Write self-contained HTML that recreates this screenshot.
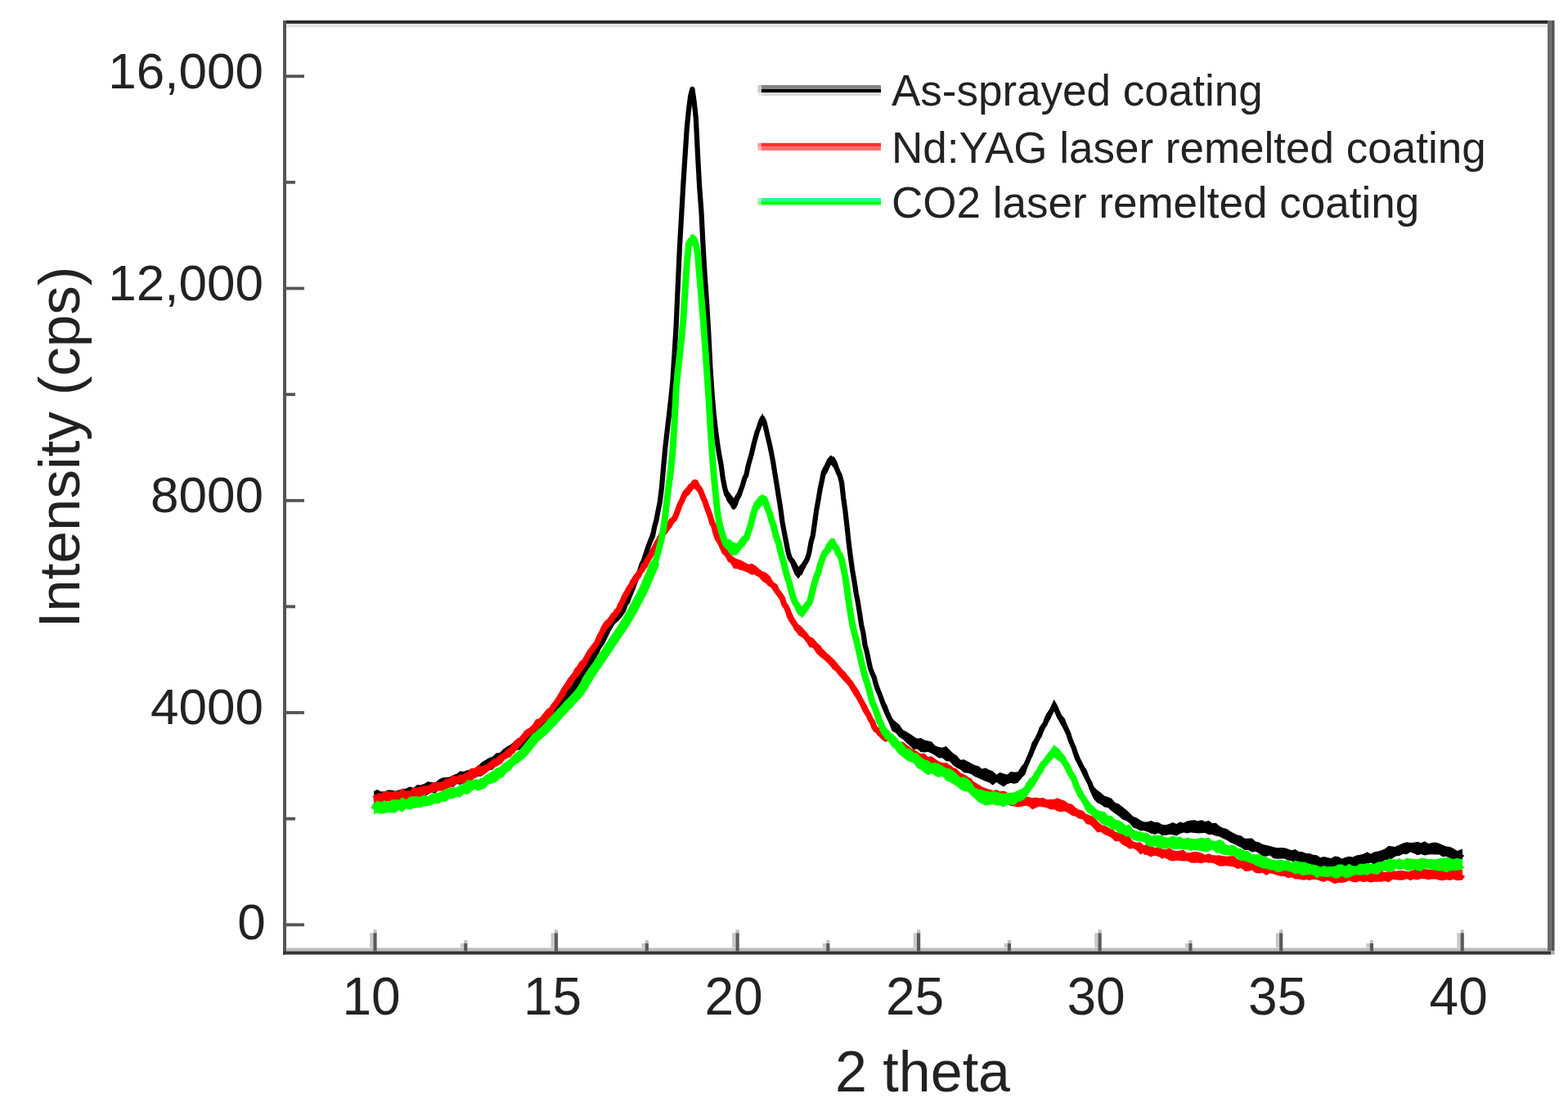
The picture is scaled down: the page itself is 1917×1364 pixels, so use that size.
<!DOCTYPE html>
<html><head><meta charset="utf-8"><style>
html,body{margin:0;padding:0;background:#fff;}
svg{display:block;}
text{font-family:"Liberation Sans",Arial,sans-serif;fill:#222;}
.tk{font-size:62px;}
.al{font-size:70px;}
.lg{font-size:53px;}
</style></head><body>
<svg width="1917" height="1364" viewBox="0 0 1917 1364">
<rect width="1917" height="1364" fill="#fff"/>
<text x="324.7" y="1147.8" text-anchor="end" class="tk">0</text>
<text x="322" y="885.3" text-anchor="end" class="tk">4000</text>
<text x="322" y="626.0" text-anchor="end" class="tk">8000</text>
<text x="322" y="366.8" text-anchor="end" class="tk">12,000</text>
<text x="322" y="107.5" text-anchor="end" class="tk">16,000</text>
<text x="454.0" y="1240" text-anchor="middle" class="tk" style="font-size:64px">10</text>
<text x="675.5" y="1240" text-anchor="middle" class="tk" style="font-size:64px">15</text>
<text x="897.1" y="1240" text-anchor="middle" class="tk" style="font-size:64px">20</text>
<text x="1118.6" y="1240" text-anchor="middle" class="tk" style="font-size:64px">25</text>
<text x="1340.1" y="1240" text-anchor="middle" class="tk" style="font-size:64px">30</text>
<text x="1561.7" y="1240" text-anchor="middle" class="tk" style="font-size:64px">35</text>
<text x="1783.2" y="1240" text-anchor="middle" class="tk" style="font-size:64px">40</text>
<text x="1128" y="1334" text-anchor="middle" class="al">2 theta</text>
<text transform="translate(97,546.5) rotate(-90)" text-anchor="middle" class="al" style="font-size:71px">Intensity (cps)</text>
<rect x="350.0" y="28.9" width="1542.0" height="4.5" fill="#e4e4e4"/>
<rect x="346.0" y="25.0" width="1550.0" height="3.9" fill="#282828"/>
<rect x="346.0" y="25.0" width="4.0" height="1141.7" fill="#555"/>
<rect x="1892.0" y="25.0" width="4.3" height="1137.4" fill="#6a6a6a"/>
<rect x="1896.3" y="25.0" width="4.2" height="1137.4" fill="#555"/>
<rect x="350.0" y="1158.5" width="1542.0" height="4.1" fill="#bebebe"/>
<rect x="346.0" y="1162.6" width="1550.3" height="4.1" fill="#353535"/>
<rect x="1896.3" y="1162.4" width="4.2" height="4.3" fill="#aaa"/>
<rect x="350.0" y="1128.4" width="22.0" height="3.8" fill="#555"/>
<rect x="350.0" y="998.8" width="11.0" height="3.8" fill="#555"/>
<rect x="350.0" y="869.1" width="22.0" height="3.8" fill="#555"/>
<rect x="350.0" y="739.5" width="11.0" height="3.8" fill="#555"/>
<rect x="350.0" y="609.9" width="22.0" height="3.8" fill="#555"/>
<rect x="350.0" y="480.2" width="11.0" height="3.8" fill="#555"/>
<rect x="350.0" y="350.6" width="22.0" height="3.8" fill="#555"/>
<rect x="350.0" y="220.9" width="11.0" height="3.8" fill="#555"/>
<rect x="350.0" y="91.3" width="22.0" height="3.8" fill="#555"/>
<rect x="452.1" y="1140.3" width="4.3" height="17.9" fill="#c8c8c8"/>
<rect x="456.4" y="1136.3" width="4.2" height="4.0" fill="#c0c0c0"/>
<rect x="456.4" y="1140.3" width="4.2" height="22.3" fill="#5a5a5a"/>
<rect x="562.9" y="1153.0" width="4.3" height="5.2" fill="#c8c8c8"/>
<rect x="567.2" y="1149.0" width="4.2" height="4.0" fill="#c0c0c0"/>
<rect x="567.2" y="1153.0" width="4.2" height="9.6" fill="#5a5a5a"/>
<rect x="673.6" y="1140.3" width="4.3" height="17.9" fill="#c8c8c8"/>
<rect x="677.9" y="1136.3" width="4.2" height="4.0" fill="#c0c0c0"/>
<rect x="677.9" y="1140.3" width="4.2" height="22.3" fill="#5a5a5a"/>
<rect x="784.4" y="1153.0" width="4.3" height="5.2" fill="#c8c8c8"/>
<rect x="788.7" y="1149.0" width="4.2" height="4.0" fill="#c0c0c0"/>
<rect x="788.7" y="1153.0" width="4.2" height="9.6" fill="#5a5a5a"/>
<rect x="895.2" y="1140.3" width="4.3" height="17.9" fill="#c8c8c8"/>
<rect x="899.5" y="1136.3" width="4.2" height="4.0" fill="#c0c0c0"/>
<rect x="899.5" y="1140.3" width="4.2" height="22.3" fill="#5a5a5a"/>
<rect x="1005.9" y="1153.0" width="4.3" height="5.2" fill="#c8c8c8"/>
<rect x="1010.2" y="1149.0" width="4.2" height="4.0" fill="#c0c0c0"/>
<rect x="1010.2" y="1153.0" width="4.2" height="9.6" fill="#5a5a5a"/>
<rect x="1116.7" y="1140.3" width="4.3" height="17.9" fill="#c8c8c8"/>
<rect x="1121.0" y="1136.3" width="4.2" height="4.0" fill="#c0c0c0"/>
<rect x="1121.0" y="1140.3" width="4.2" height="22.3" fill="#5a5a5a"/>
<rect x="1227.5" y="1153.0" width="4.3" height="5.2" fill="#c8c8c8"/>
<rect x="1231.8" y="1149.0" width="4.2" height="4.0" fill="#c0c0c0"/>
<rect x="1231.8" y="1153.0" width="4.2" height="9.6" fill="#5a5a5a"/>
<rect x="1338.2" y="1140.3" width="4.3" height="17.9" fill="#c8c8c8"/>
<rect x="1342.5" y="1136.3" width="4.2" height="4.0" fill="#c0c0c0"/>
<rect x="1342.5" y="1140.3" width="4.2" height="22.3" fill="#5a5a5a"/>
<rect x="1449.0" y="1153.0" width="4.3" height="5.2" fill="#c8c8c8"/>
<rect x="1453.3" y="1149.0" width="4.2" height="4.0" fill="#c0c0c0"/>
<rect x="1453.3" y="1153.0" width="4.2" height="9.6" fill="#5a5a5a"/>
<rect x="1559.8" y="1140.3" width="4.3" height="17.9" fill="#c8c8c8"/>
<rect x="1564.1" y="1136.3" width="4.2" height="4.0" fill="#c0c0c0"/>
<rect x="1564.1" y="1140.3" width="4.2" height="22.3" fill="#5a5a5a"/>
<rect x="1670.5" y="1153.0" width="4.3" height="5.2" fill="#c8c8c8"/>
<rect x="1674.8" y="1149.0" width="4.2" height="4.0" fill="#c0c0c0"/>
<rect x="1674.8" y="1153.0" width="4.2" height="9.6" fill="#5a5a5a"/>
<rect x="1781.3" y="1140.3" width="4.3" height="17.9" fill="#c8c8c8"/>
<rect x="1785.6" y="1136.3" width="4.2" height="4.0" fill="#c0c0c0"/>
<rect x="1785.6" y="1140.3" width="4.2" height="22.3" fill="#5a5a5a"/>
<path d="M457.0,967.0 461.4,965.1 465.8,967.6 470.2,967.3 474.6,965.5 479.0,965.8 483.4,966.8 487.8,965.5 492.2,964.4 496.6,963.8 501.0,961.4 505.4,963.0 509.8,959.2 514.2,959.6 518.6,958.1 523.0,955.3 527.4,955.9 531.8,956.7 536.2,953.0 540.6,950.5 545.0,950.3 549.4,949.8 553.8,947.5 558.2,945.7 562.6,942.4 567.0,943.0 571.4,941.2 575.8,940.4 580.2,938.8 584.6,936.0 589.0,931.4 593.4,928.9 597.8,926.2 602.2,924.8 606.6,920.4 611.0,919.9 615.4,915.5 619.8,912.5 624.2,909.9 628.6,906.5 633.0,902.1 637.4,903.8 641.8,900.1 646.2,896.1 650.6,889.3 655.0,884.1 659.4,880.8 663.8,877.6 668.2,875.4 672.6,870.2 677.0,865.7 681.4,861.1 685.8,854.1 690.2,848.7 694.6,842.6 699.0,837.4 703.4,829.2 707.8,823.0 712.2,814.8 716.6,807.2 721.0,800.0 725.4,794.8 729.8,789.0 734.2,780.8 738.6,773.9 743.0,763.4 747.4,754.3 751.8,748.8 756.2,744.0 760.6,738.8 765.0,732.1 769.4,723.8 773.8,710.2 778.2,701.8 782.6,688.4 787.0,677.1 791.4,663.0 795.8,650.7 800.2,638.8 804.6,618.0 809.0,588.6 813.4,539.9 817.8,501.2 822.2,461.1 826.6,392.3 831.0,291.6 835.4,214.8 839.8,151.9 844.2,113.0 848.6,116.1 853.0,180.4 857.4,250.2 861.8,330.8 866.2,396.6 870.6,474.2 875.0,519.6 879.4,548.7 883.8,577.2 888.2,597.5 892.6,603.1 897.0,609.1 901.4,601.7 905.8,592.5 910.2,578.6 914.6,566.0 919.0,545.9 923.4,530.1 927.8,514.8 932.2,504.8 936.6,517.5 941.0,536.2 945.4,561.3 949.8,586.5 954.2,617.4 958.6,642.7 963.0,664.3 967.4,679.6 971.8,684.6 976.2,692.7 980.6,688.2 985.0,680.6 989.4,668.3 993.8,645.5 998.2,616.2 1002.6,592.4 1007.0,570.5 1011.4,560.9 1015.8,556.2 1020.2,560.9 1024.6,569.5 1029.0,582.1 1033.4,618.9 1037.8,657.1 1042.2,690.6 1046.6,717.7 1051.0,742.3 1055.4,768.0 1059.8,791.6 1064.2,810.3 1068.6,824.0 1073.0,833.4 1077.4,845.7 1081.8,858.8 1086.2,866.9 1090.6,878.0 1095.0,882.0 1099.4,885.4 1103.8,892.1 1108.2,894.3 1112.6,897.0 1117.0,899.9 1121.4,902.7 1125.8,902.1 1130.2,904.5 1134.6,905.6 1139.0,906.6 1143.4,911.5 1147.8,913.0 1152.2,913.7 1156.6,912.0 1161.0,916.6 1165.4,920.7 1169.8,923.6 1174.2,928.7 1178.6,928.3 1183.0,930.4 1187.4,932.9 1191.8,935.2 1196.2,936.2 1200.6,939.7 1205.0,938.6 1209.4,941.1 1213.8,942.6 1218.2,946.7 1222.6,944.1 1227.0,945.6 1231.4,946.8 1235.8,943.0 1240.2,943.7 1244.6,943.2 1249.0,936.0 1253.4,931.9 1257.8,918.9 1262.2,909.8 1266.6,899.1 1271.0,889.8 1275.4,882.3 1279.8,872.1 1284.2,865.0 1288.6,854.7 1293.0,862.5 1297.4,873.3 1301.8,878.2 1306.2,890.3 1310.6,901.2 1315.0,913.2 1319.4,923.6 1323.8,934.7 1328.2,940.2 1332.6,952.3 1337.0,961.3 1341.4,965.4 1345.8,968.8 1350.2,972.7 1354.6,974.1 1359.0,975.9 1363.4,981.0 1367.8,982.6 1372.2,986.1 1376.6,989.6 1381.0,993.6 1385.4,998.1 1389.8,999.6 1394.2,1002.5 1398.6,1004.6 1403.0,1004.6 1407.4,1003.0 1411.8,1005.0 1416.2,1004.9 1420.6,1007.8 1425.0,1008.2 1429.4,1006.9 1433.8,1005.0 1438.2,1006.9 1442.6,1004.6 1447.0,1005.7 1451.4,1003.5 1455.8,1002.8 1460.2,1002.3 1464.6,1003.6 1469.0,1002.3 1473.4,1004.2 1477.8,1003.1 1482.2,1006.2 1486.6,1005.8 1491.0,1009.7 1495.4,1011.9 1499.8,1013.0 1504.2,1015.9 1508.6,1018.5 1513.0,1020.6 1517.4,1021.4 1521.8,1024.8 1526.2,1024.7 1530.6,1024.4 1535.0,1028.5 1539.4,1029.4 1543.8,1032.0 1548.2,1033.1 1552.6,1033.9 1557.0,1035.3 1561.4,1036.2 1565.8,1036.0 1570.2,1036.2 1574.6,1037.6 1579.0,1039.3 1583.4,1037.9 1587.8,1040.7 1592.2,1041.0 1596.6,1042.9 1601.0,1042.9 1605.4,1044.8 1609.8,1045.3 1614.2,1048.0 1618.6,1046.9 1623.0,1047.9 1627.4,1049.1 1631.8,1046.6 1636.2,1046.9 1640.6,1049.4 1645.0,1047.8 1649.4,1046.8 1653.8,1047.5 1658.2,1045.4 1662.6,1044.8 1667.0,1043.8 1671.4,1041.2 1675.8,1043.6 1680.2,1041.3 1684.6,1040.6 1689.0,1039.3 1693.4,1037.3 1697.8,1033.8 1702.2,1034.6 1706.6,1035.1 1711.0,1032.5 1715.4,1030.5 1719.8,1029.2 1724.2,1029.9 1728.6,1029.8 1733.0,1028.8 1737.4,1030.2 1741.8,1028.3 1746.2,1031.0 1750.6,1030.1 1755.0,1029.5 1759.4,1030.7 1763.8,1032.7 1768.2,1034.5 1772.6,1035.0 1777.0,1036.9 1781.4,1039.9 1788.0,1037.4 1788.0,1052.9 1781.4,1052.2 1777.0,1052.6 1772.6,1049.0 1768.2,1046.8 1763.8,1047.3 1759.4,1044.6 1755.0,1044.5 1750.6,1044.3 1746.2,1044.4 1741.8,1045.5 1737.4,1044.1 1733.0,1045.3 1728.6,1043.0 1724.2,1041.5 1719.8,1044.3 1715.4,1043.8 1711.0,1046.0 1706.6,1046.4 1702.2,1049.3 1697.8,1051.2 1693.4,1051.0 1689.0,1054.1 1684.6,1054.9 1680.2,1056.4 1675.8,1054.6 1671.4,1056.1 1667.0,1058.8 1662.6,1060.1 1658.2,1059.8 1653.8,1059.2 1649.4,1060.7 1645.0,1061.5 1640.6,1062.2 1636.2,1063.7 1631.8,1062.7 1627.4,1063.3 1623.0,1061.3 1618.6,1060.6 1614.2,1059.7 1609.8,1060.0 1605.4,1058.4 1601.0,1055.5 1596.6,1058.3 1592.2,1056.9 1587.8,1055.9 1583.4,1055.2 1579.0,1052.2 1574.6,1051.4 1570.2,1049.6 1565.8,1049.4 1561.4,1049.8 1557.0,1049.2 1552.6,1045.6 1548.2,1046.8 1543.8,1046.5 1539.4,1043.2 1535.0,1040.7 1530.6,1041.5 1526.2,1039.0 1521.8,1038.9 1517.4,1035.9 1513.0,1033.7 1508.6,1031.5 1504.2,1029.8 1499.8,1026.7 1495.4,1025.1 1491.0,1022.6 1486.6,1021.7 1482.2,1020.0 1477.8,1020.3 1473.4,1018.1 1469.0,1018.2 1464.6,1018.4 1460.2,1018.0 1455.8,1017.4 1451.4,1018.5 1447.0,1017.4 1442.6,1018.9 1438.2,1021.7 1433.8,1020.3 1429.4,1019.9 1425.0,1021.1 1420.6,1021.0 1416.2,1018.3 1411.8,1020.0 1407.4,1018.7 1403.0,1016.7 1398.6,1015.2 1394.2,1015.6 1389.8,1012.9 1385.4,1011.5 1381.0,1005.9 1376.6,1003.0 1372.2,1001.4 1367.8,997.5 1363.4,994.4 1359.0,991.3 1354.6,987.2 1350.2,986.5 1345.8,983.3 1341.4,981.3 1337.0,976.4 1332.6,966.8 1328.2,954.8 1323.8,947.4 1319.4,938.0 1315.0,928.3 1310.6,916.9 1306.2,903.1 1301.8,894.4 1297.4,886.0 1293.0,878.6 1288.6,869.1 1284.2,878.9 1279.8,886.0 1275.4,895.6 1271.0,904.2 1266.6,914.2 1262.2,921.8 1257.8,931.9 1253.4,946.5 1249.0,951.0 1244.6,956.5 1240.2,957.9 1235.8,956.9 1231.4,958.2 1227.0,961.4 1222.6,959.0 1218.2,955.9 1213.8,959.7 1209.4,956.4 1205.0,955.0 1200.6,952.9 1196.2,951.0 1191.8,949.2 1187.4,946.2 1183.0,944.8 1178.6,944.6 1174.2,940.6 1169.8,938.6 1165.4,935.6 1161.0,930.4 1156.6,930.3 1152.2,926.5 1147.8,926.5 1143.4,923.5 1139.0,920.7 1134.6,919.1 1130.2,919.5 1125.8,919.3 1121.4,915.6 1117.0,915.9 1112.6,911.7 1108.2,907.9 1103.8,903.4 1099.4,901.1 1095.0,895.8 1090.6,893.4 1086.2,882.6 1081.8,872.9 1077.4,863.3 1073.0,848.1 1068.6,834.7 1064.2,824.2 1059.8,803.2 1055.4,783.0 1051.0,758.9 1046.6,731.3 1042.2,705.3 1037.8,669.8 1033.4,633.1 1029.0,596.7 1024.6,582.3 1020.2,573.1 1015.8,567.7 1011.4,577.9 1007.0,583.3 1002.6,603.6 998.2,633.1 993.8,659.4 989.4,682.4 985.0,693.5 980.6,700.5 976.2,707.4 971.8,702.4 967.4,691.7 963.0,680.1 958.6,657.6 954.2,627.4 949.8,602.0 945.4,574.6 941.0,550.4 936.6,534.4 932.2,518.2 927.8,528.1 923.4,541.9 919.0,561.1 914.6,578.4 910.2,590.9 905.8,607.4 901.4,615.9 897.0,623.2 892.6,617.4 888.2,611.4 883.8,589.7 879.4,561.6 875.0,533.3 870.6,490.6 866.2,412.2 861.8,344.2 857.4,266.7 853.0,195.4 848.6,131.9 844.2,126.3 839.8,164.9 835.4,231.2 831.0,308.2 826.6,408.2 822.2,474.2 817.8,513.8 813.4,554.5 809.0,600.0 804.6,632.3 800.2,652.3 795.8,667.9 791.4,678.4 787.0,691.6 782.6,703.7 778.2,714.5 773.8,725.4 769.4,733.8 765.0,747.3 760.6,753.8 756.2,758.8 751.8,762.4 747.4,769.5 743.0,778.2 738.6,787.5 734.2,793.4 729.8,802.6 725.4,809.9 721.0,815.6 716.6,822.0 712.2,828.7 707.8,838.8 703.4,842.4 699.0,850.5 694.6,857.2 690.2,861.9 685.8,868.1 681.4,872.2 677.0,877.1 672.6,884.3 668.2,890.0 663.8,890.9 659.4,898.0 655.0,900.8 650.6,903.8 646.2,907.2 641.8,912.5 637.4,917.1 633.0,916.6 628.6,918.3 624.2,921.6 619.8,927.1 615.4,928.6 611.0,933.2 606.6,936.3 602.2,940.8 597.8,941.4 593.4,943.7 589.0,948.7 584.6,949.1 580.2,950.6 575.8,952.5 571.4,956.5 567.0,956.9 562.6,959.1 558.2,958.2 553.8,962.2 549.4,962.1 545.0,965.5 540.6,965.1 536.2,965.4 531.8,970.0 527.4,968.8 523.0,970.9 518.6,974.0 514.2,972.9 509.8,974.0 505.4,978.0 501.0,977.5 496.6,976.6 492.2,976.3 487.8,979.5 483.4,980.3 479.0,979.5 474.6,977.9 470.2,980.5 465.8,979.8 461.4,981.6 457.0,979.6Z" fill="#000"/>
<path d="M457.0,975.3 459.2,975.6 461.4,974.8 463.6,972.9 465.8,974.8 468.0,974.1 470.2,972.8 472.4,973.7 474.6,973.2 476.8,972.9 479.0,972.3 481.2,972.6 483.4,971.0 485.6,971.3 487.8,970.7 490.0,971.5 492.2,970.6 494.4,970.0 496.6,969.2 498.8,969.5 501.0,969.4 503.2,968.8 505.4,970.1 507.6,969.5 509.8,966.0 512.0,965.7 514.2,966.8 516.4,965.9 518.6,965.9 520.8,965.2 523.0,966.5 525.2,962.6 527.4,962.7 529.6,964.4 531.8,962.4 534.0,961.8 536.2,959.9 538.4,958.1 540.6,959.1 542.8,958.3 545.0,956.1 547.2,955.9 549.4,955.7 551.6,954.1 553.8,954.2 556.0,953.6 558.2,952.7 560.4,951.4 562.6,951.7 564.8,951.2 567.0,949.7 569.2,947.7 571.4,948.3 573.6,946.2 575.8,946.7 578.0,943.8 580.2,944.9 582.4,943.1 584.6,941.0 586.8,941.0 589.0,940.5 591.2,939.4 593.4,936.6 595.6,935.0 597.8,934.7 600.0,932.5 602.2,931.7 604.4,930.7 606.6,926.7 608.8,927.1 611.0,926.5 613.2,923.4 615.4,921.4 617.6,921.4 619.8,919.3 622.0,918.4 624.2,915.6 626.4,913.0 628.6,913.0 630.8,911.5 633.0,911.5 635.2,909.8 637.4,906.8 639.6,906.0 641.8,906.2 644.0,904.0 646.2,900.6 648.4,899.2 650.6,897.7 652.8,895.7 655.0,894.2 657.2,891.7 659.4,889.5 661.6,887.5 663.8,886.9 666.0,881.7 668.2,881.2 670.4,878.8 672.6,874.7 674.8,873.9 677.0,870.3 679.2,869.2 681.4,865.6 683.6,863.8 685.8,861.7 688.0,858.2 690.2,854.4 692.4,851.1 694.6,851.8 696.8,847.3 699.0,844.1 701.2,841.8 703.4,837.4 705.6,834.4 707.8,829.5 710.0,825.4 712.2,820.7 714.4,818.5 716.6,813.7 718.8,812.0 721.0,809.5 723.2,803.1 725.4,799.1 727.6,798.5 729.8,796.7 732.0,790.1 734.2,786.4 736.4,784.8 738.6,779.8 740.8,775.4 743.0,770.7 745.2,766.8 747.4,761.2 749.6,758.8 751.8,756.0 754.0,752.9 756.2,751.0 758.4,748.0 760.6,746.5 762.8,742.1 765.0,737.5 767.2,735.4 769.4,729.2 771.6,723.9 773.8,718.8 776.0,712.3 778.2,706.9 780.4,702.0 782.6,696.2 784.8,689.2 787.0,685.4 789.2,677.9 791.4,671.3 793.6,665.3 795.8,659.7 798.0,655.2 800.2,643.7 802.4,635.9 804.6,624.2 806.8,613.5 809.0,595.5 811.2,569.9 813.4,546.2 815.6,527.4 817.8,508.6 820.0,489.2 822.2,468.4 824.4,434.7 826.6,398.8 828.8,348.8 831.0,300.9 833.2,262.5 835.4,223.9 837.6,189.8 839.8,156.0 842.0,134.1 844.2,117.1 846.4,108.8 848.6,123.8 850.8,144.0 853.0,188.8 855.2,228.8 857.4,257.9 859.6,301.2 861.8,338.0 864.0,368.7 866.2,405.0 868.4,448.8 870.6,481.1 872.8,507.0 875.0,526.0 877.2,542.3 879.4,556.6 881.6,567.9 883.8,584.6 886.0,595.9 888.2,604.3 890.4,607.5 892.6,612.1 894.8,614.7 897.0,619.4 899.2,615.6 901.4,608.1 903.6,605.2 905.8,598.8 908.0,592.7 910.2,584.7 912.4,580.5 914.6,569.7 916.8,562.0 919.0,554.2 921.2,544.3 923.4,536.1 925.6,528.0 927.8,522.3 930.0,515.4 932.2,511.0 934.4,515.6 936.6,524.7 938.8,534.4 941.0,543.4 943.2,554.2 945.4,566.0 947.6,580.0 949.8,593.2 952.0,607.2 954.2,621.0 956.4,637.5 958.6,649.5 960.8,660.7 963.0,672.3 965.2,681.0 967.4,684.9 969.6,687.6 971.8,694.4 974.0,698.5 976.2,700.3 978.4,700.1 980.6,694.5 982.8,690.0 985.0,687.2 987.2,682.6 989.4,674.8 991.6,662.2 993.8,654.7 996.0,639.0 998.2,623.4 1000.4,611.2 1002.6,598.0 1004.8,587.6 1007.0,576.6 1009.2,572.3 1011.4,569.5 1013.6,565.4 1015.8,563.8 1018.0,561.0 1020.2,564.9 1022.4,571.1 1024.6,576.8 1026.8,581.4 1029.0,589.7 1031.2,608.8 1033.4,624.7 1035.6,644.1 1037.8,664.6 1040.0,681.8 1042.2,697.2 1044.4,710.3 1046.6,724.5 1048.8,735.9 1051.0,749.8 1053.2,764.3 1055.4,773.6 1057.6,788.8 1059.8,796.7 1062.0,807.3 1064.2,817.3 1066.4,822.9 1068.6,827.6 1070.8,836.4 1073.0,843.0 1075.2,847.9 1077.4,853.6 1079.6,859.7 1081.8,863.7 1084.0,870.4 1086.2,875.3 1088.4,879.5 1090.6,883.2 1092.8,886.8 1095.0,888.2 1097.2,892.2 1099.4,893.5 1101.6,896.2 1103.8,897.5 1106.0,899.6 1108.2,900.5 1110.4,903.9 1112.6,906.4 1114.8,905.5 1117.0,906.5 1119.2,908.1 1121.4,908.9 1123.6,909.5 1125.8,911.1 1128.0,911.5 1130.2,914.0 1132.4,913.3 1134.6,914.5 1136.8,916.0 1139.0,915.7 1141.2,918.2 1143.4,916.7 1145.6,917.0 1147.8,917.8 1150.0,918.5 1152.2,917.8 1154.4,920.1 1156.6,919.5 1158.8,923.5 1161.0,923.0 1163.2,924.1 1165.4,926.0 1167.6,928.7 1169.8,931.1 1172.0,932.4 1174.2,933.8 1176.4,935.5 1178.6,936.2 1180.8,938.6 1183.0,939.8 1185.2,939.8 1187.4,941.4 1189.6,940.6 1191.8,943.7 1194.0,943.8 1196.2,944.9 1198.4,946.6 1200.6,943.3 1202.8,946.4 1205.0,945.8 1207.2,948.4 1209.4,947.4 1211.6,949.1 1213.8,950.6 1216.0,951.4 1218.2,951.4 1220.4,950.9 1222.6,951.6 1224.8,953.2 1227.0,952.0 1229.2,950.1 1231.4,952.4 1233.6,951.8 1235.8,952.3 1238.0,951.3 1240.2,952.6 1242.4,950.8 1244.6,951.2 1246.8,947.2 1249.0,945.3 1251.2,942.5 1253.4,936.7 1255.6,931.9 1257.8,926.6 1260.0,922.2 1262.2,916.3 1264.4,908.9 1266.6,905.9 1268.8,901.9 1271.0,898.9 1273.2,890.8 1275.4,887.6 1277.6,885.1 1279.8,878.1 1282.0,873.9 1284.2,871.2 1286.4,867.4 1288.6,862.6 1290.8,866.7 1293.0,870.5 1295.2,876.1 1297.4,878.8 1299.6,884.2 1301.8,886.7 1304.0,891.8 1306.2,896.6 1308.4,903.8 1310.6,909.3 1312.8,914.0 1315.0,921.5 1317.2,927.5 1319.4,931.3 1321.6,935.5 1323.8,940.0 1326.0,942.9 1328.2,949.2 1330.4,953.7 1332.6,957.4 1334.8,963.7 1337.0,966.4 1339.2,970.8 1341.4,972.5 1343.6,976.4 1345.8,974.3 1348.0,977.9 1350.2,979.8 1352.4,980.7 1354.6,983.0 1356.8,982.3 1359.0,982.5 1361.2,987.0 1363.4,986.5 1365.6,988.8 1367.8,989.4 1370.0,993.1 1372.2,994.4 1374.4,994.3 1376.6,997.4 1378.8,998.3 1381.0,999.6 1383.2,1001.4 1385.4,1002.8 1387.6,1005.2 1389.8,1006.5 1392.0,1007.5 1394.2,1010.4 1396.4,1009.6 1398.6,1010.9 1400.8,1011.4 1403.0,1012.8 1405.2,1011.1 1407.4,1013.7 1409.6,1012.5 1411.8,1012.5 1414.0,1012.4 1416.2,1014.0 1418.4,1013.8 1420.6,1012.8 1422.8,1012.7 1425.0,1013.2 1427.2,1012.9 1429.4,1014.6 1431.6,1014.7 1433.8,1014.1 1436.0,1013.5 1438.2,1012.6 1440.4,1012.9 1442.6,1013.6 1444.8,1014.7 1447.0,1013.3 1449.2,1011.9 1451.4,1012.0 1453.6,1011.2 1455.8,1010.7 1458.0,1011.1 1460.2,1011.2 1462.4,1012.6 1464.6,1010.6 1466.8,1011.7 1469.0,1011.9 1471.2,1010.3 1473.4,1012.3 1475.6,1011.9 1477.8,1011.2 1480.0,1012.4 1482.2,1012.6 1484.4,1012.8 1486.6,1013.3 1488.8,1014.2 1491.0,1015.6 1493.2,1015.5 1495.4,1017.7 1497.6,1017.5 1499.8,1020.5 1502.0,1022.1 1504.2,1023.0 1506.4,1024.4 1508.6,1025.8 1510.8,1025.5 1513.0,1026.8 1515.2,1028.4 1517.4,1029.8 1519.6,1030.0 1521.8,1032.7 1524.0,1031.3 1526.2,1033.3 1528.4,1034.3 1530.6,1033.6 1532.8,1033.6 1535.0,1034.0 1537.2,1036.0 1539.4,1037.7 1541.6,1037.5 1543.8,1038.1 1546.0,1038.3 1548.2,1039.9 1550.4,1037.9 1552.6,1041.0 1554.8,1041.5 1557.0,1040.8 1559.2,1044.9 1561.4,1041.7 1563.6,1042.4 1565.8,1042.6 1568.0,1045.3 1570.2,1043.8 1572.4,1045.8 1574.6,1046.1 1576.8,1046.3 1579.0,1045.1 1581.2,1046.3 1583.4,1049.0 1585.6,1046.5 1587.8,1047.4 1590.0,1048.5 1592.2,1049.9 1594.4,1049.8 1596.6,1050.8 1598.8,1049.4 1601.0,1051.8 1603.2,1051.9 1605.4,1050.2 1607.6,1053.7 1609.8,1054.8 1612.0,1052.3 1614.2,1053.5 1616.4,1055.3 1618.6,1052.9 1620.8,1052.8 1623.0,1053.9 1625.2,1055.1 1627.4,1055.5 1629.6,1056.6 1631.8,1056.0 1634.0,1054.2 1636.2,1055.8 1638.4,1056.9 1640.6,1055.9 1642.8,1055.4 1645.0,1054.2 1647.2,1054.9 1649.4,1052.7 1651.6,1054.2 1653.8,1053.1 1656.0,1054.0 1658.2,1053.1 1660.4,1051.3 1662.6,1052.2 1664.8,1052.9 1667.0,1050.1 1669.2,1050.2 1671.4,1049.6 1673.6,1048.4 1675.8,1050.4 1678.0,1050.3 1680.2,1049.4 1682.4,1048.4 1684.6,1047.6 1686.8,1047.5 1689.0,1046.0 1691.2,1046.8 1693.4,1046.1 1695.6,1045.1 1697.8,1042.7 1700.0,1042.4 1702.2,1041.3 1704.4,1042.4 1706.6,1039.9 1708.8,1036.9 1711.0,1038.7 1713.2,1040.0 1715.4,1038.5 1717.6,1038.5 1719.8,1037.4 1722.0,1035.1 1724.2,1035.0 1726.4,1035.4 1728.6,1036.2 1730.8,1036.4 1733.0,1036.6 1735.2,1035.7 1737.4,1037.1 1739.6,1036.0 1741.8,1035.7 1744.0,1037.4 1746.2,1035.8 1748.4,1034.6 1750.6,1035.9 1752.8,1037.2 1755.0,1035.0 1757.2,1037.1 1759.4,1037.7 1761.6,1037.2 1763.8,1037.8 1766.0,1039.5 1768.2,1040.1 1770.4,1042.5 1772.6,1042.3 1774.8,1041.0 1777.0,1042.4 1779.2,1044.6 1781.4,1046.4 1783.6,1045.6 1785.8,1046.2 1788.0,1048.3" fill="none" stroke="#000" stroke-width="6.2" stroke-linejoin="round"/>
<path d="M457.0,970.7 461.4,971.9 465.8,970.1 470.2,967.1 474.6,967.1 479.0,968.3 483.4,966.7 487.8,967.6 492.2,963.3 496.6,967.4 501.0,966.7 505.4,962.1 509.8,962.8 514.2,961.2 518.6,960.2 523.0,960.5 527.4,957.5 531.8,955.7 536.2,956.3 540.6,955.6 545.0,951.9 549.4,951.2 553.8,947.6 558.2,949.0 562.6,948.6 567.0,945.7 571.4,943.4 575.8,939.0 580.2,939.1 584.6,935.0 589.0,936.5 593.4,935.4 597.8,932.5 602.2,928.6 606.6,926.6 611.0,922.4 615.4,919.8 619.8,916.1 624.2,912.1 628.6,905.4 633.0,903.2 637.4,898.5 641.8,892.5 646.2,890.1 650.6,886.8 655.0,879.3 659.4,878.5 663.8,872.5 668.2,867.1 672.6,863.9 677.0,857.3 681.4,850.5 685.8,842.6 690.2,835.9 694.6,829.0 699.0,823.7 703.4,816.9 707.8,810.0 712.2,806.4 716.6,798.4 721.0,792.4 725.4,787.4 729.8,779.5 734.2,770.5 738.6,760.7 743.0,756.1 747.4,750.4 751.8,745.9 756.2,737.7 760.6,729.1 765.0,719.0 769.4,713.8 773.8,704.3 778.2,699.0 782.6,693.7 787.0,686.5 791.4,679.7 795.8,672.4 800.2,661.5 804.6,655.6 809.0,650.3 813.4,644.0 817.8,634.6 822.2,631.5 826.6,623.1 831.0,610.7 835.4,599.8 839.8,595.3 844.2,592.0 848.6,585.8 853.0,586.7 857.4,597.2 861.8,608.2 866.2,618.3 870.6,632.0 875.0,645.8 879.4,653.1 883.8,664.0 888.2,668.3 892.6,676.3 897.0,681.5 901.4,683.2 905.8,684.8 910.2,686.9 914.6,689.9 919.0,688.7 923.4,691.1 927.8,695.1 932.2,698.2 936.6,699.8 941.0,704.1 945.4,710.9 949.8,714.9 954.2,725.0 958.6,732.9 963.0,742.4 967.4,747.7 971.8,757.1 976.2,763.2 980.6,766.4 985.0,771.6 989.4,777.7 993.8,779.4 998.2,784.5 1002.6,791.0 1007.0,794.0 1011.4,798.8 1015.8,802.7 1020.2,806.4 1024.6,811.8 1029.0,817.6 1033.4,821.6 1037.8,827.5 1042.2,833.1 1046.6,840.9 1051.0,850.4 1055.4,856.6 1059.8,862.2 1064.2,872.1 1068.6,883.2 1073.0,890.0 1077.4,889.1 1081.8,893.9 1086.2,896.2 1090.6,896.6 1095.0,902.1 1099.4,907.0 1103.8,906.6 1108.2,910.0 1112.6,914.5 1117.0,915.7 1121.4,918.5 1125.8,921.2 1130.2,920.8 1134.6,924.9 1139.0,924.3 1143.4,927.7 1147.8,930.4 1152.2,933.2 1156.6,931.9 1161.0,934.9 1165.4,938.3 1169.8,939.7 1174.2,944.6 1178.6,946.6 1183.0,948.8 1187.4,954.4 1191.8,956.0 1196.2,958.8 1200.6,961.4 1205.0,963.3 1209.4,964.8 1213.8,967.1 1218.2,965.0 1222.6,967.4 1227.0,966.4 1231.4,968.5 1235.8,972.5 1240.2,971.5 1244.6,974.6 1249.0,976.0 1253.4,973.6 1257.8,974.0 1262.2,975.2 1266.6,974.7 1271.0,975.5 1275.4,975.0 1279.8,977.3 1284.2,977.1 1288.6,977.1 1293.0,975.3 1297.4,977.2 1301.8,978.7 1306.2,981.9 1310.6,982.8 1315.0,986.9 1319.4,989.8 1323.8,990.7 1328.2,995.1 1332.6,996.6 1337.0,998.2 1341.4,1003.0 1345.8,1007.9 1350.2,1009.1 1354.6,1011.0 1359.0,1014.2 1363.4,1016.4 1367.8,1018.0 1372.2,1017.8 1376.6,1020.0 1381.0,1022.5 1385.4,1028.8 1389.8,1029.8 1394.2,1029.3 1398.6,1033.3 1403.0,1031.5 1407.4,1034.3 1411.8,1036.0 1416.2,1035.6 1420.6,1037.6 1425.0,1038.6 1429.4,1036.3 1433.8,1039.0 1438.2,1040.2 1442.6,1039.4 1447.0,1038.8 1451.4,1042.7 1455.8,1041.7 1460.2,1041.1 1464.6,1041.2 1469.0,1042.6 1473.4,1044.7 1477.8,1043.2 1482.2,1045.0 1486.6,1045.4 1491.0,1045.3 1495.4,1046.2 1499.8,1046.8 1504.2,1046.2 1508.6,1046.3 1513.0,1049.9 1517.4,1051.8 1521.8,1051.8 1526.2,1051.2 1530.6,1053.3 1535.0,1053.5 1539.4,1052.9 1543.8,1053.9 1548.2,1055.0 1552.6,1056.9 1557.0,1055.4 1561.4,1058.9 1565.8,1058.4 1570.2,1060.7 1574.6,1061.3 1579.0,1061.2 1583.4,1062.0 1587.8,1063.1 1592.2,1063.9 1596.6,1064.9 1601.0,1066.5 1605.4,1065.2 1609.8,1066.6 1614.2,1066.1 1618.6,1064.7 1623.0,1066.0 1627.4,1066.4 1631.8,1066.9 1636.2,1065.6 1640.6,1067.5 1645.0,1065.7 1649.4,1066.4 1653.8,1067.2 1658.2,1066.5 1662.6,1065.1 1667.0,1064.5 1671.4,1065.3 1675.8,1064.9 1680.2,1068.1 1684.6,1064.2 1689.0,1063.6 1693.4,1067.5 1697.8,1062.7 1702.2,1063.7 1706.6,1064.8 1711.0,1063.9 1715.4,1063.9 1719.8,1065.1 1724.2,1065.5 1728.6,1063.0 1733.0,1063.1 1737.4,1062.4 1741.8,1062.2 1746.2,1062.4 1750.6,1063.3 1755.0,1062.6 1759.4,1063.6 1763.8,1062.8 1768.2,1062.1 1772.6,1063.1 1777.0,1063.3 1781.4,1063.1 1788.0,1063.3 1788.0,1074.9 1781.4,1076.3 1777.0,1074.8 1772.6,1076.1 1768.2,1075.2 1763.8,1076.3 1759.4,1075.7 1755.0,1074.4 1750.6,1074.6 1746.2,1075.3 1741.8,1074.3 1737.4,1074.1 1733.0,1075.5 1728.6,1074.5 1724.2,1076.2 1719.8,1073.7 1715.4,1075.7 1711.0,1075.8 1706.6,1075.2 1702.2,1075.1 1697.8,1078.6 1693.4,1076.8 1689.0,1077.8 1684.6,1077.8 1680.2,1077.7 1675.8,1078.7 1671.4,1077.0 1667.0,1078.2 1662.6,1076.8 1658.2,1078.4 1653.8,1077.9 1649.4,1076.3 1645.0,1078.3 1640.6,1079.0 1636.2,1078.7 1631.8,1080.3 1627.4,1078.1 1623.0,1076.1 1618.6,1078.1 1614.2,1076.7 1609.8,1075.0 1605.4,1074.7 1601.0,1076.1 1596.6,1074.9 1592.2,1075.6 1587.8,1074.6 1583.4,1074.5 1579.0,1072.3 1574.6,1073.3 1570.2,1071.1 1565.8,1071.1 1561.4,1069.8 1557.0,1068.3 1552.6,1067.3 1548.2,1069.9 1543.8,1066.7 1539.4,1067.6 1535.0,1066.9 1530.6,1063.6 1526.2,1064.9 1521.8,1064.7 1517.4,1060.8 1513.0,1062.3 1508.6,1059.6 1504.2,1058.9 1499.8,1058.2 1495.4,1058.6 1491.0,1058.7 1486.6,1056.4 1482.2,1054.2 1477.8,1054.8 1473.4,1053.7 1469.0,1055.2 1464.6,1054.4 1460.2,1054.8 1455.8,1054.4 1451.4,1052.2 1447.0,1052.5 1442.6,1052.0 1438.2,1051.7 1433.8,1052.6 1429.4,1051.5 1425.0,1048.1 1420.6,1049.8 1416.2,1046.6 1411.8,1045.2 1407.4,1047.5 1403.0,1045.4 1398.6,1042.2 1394.2,1044.4 1389.8,1039.5 1385.4,1036.7 1381.0,1037.8 1376.6,1034.4 1372.2,1032.5 1367.8,1027.9 1363.4,1028.4 1359.0,1023.9 1354.6,1021.8 1350.2,1020.1 1345.8,1016.8 1341.4,1017.5 1337.0,1012.0 1332.6,1007.9 1328.2,1007.2 1323.8,1001.6 1319.4,1000.5 1315.0,997.8 1310.6,997.1 1306.2,993.7 1301.8,991.4 1297.4,992.4 1293.0,991.4 1288.6,989.3 1284.2,989.6 1279.8,987.3 1275.4,986.6 1271.0,985.5 1266.6,987.3 1262.2,989.6 1257.8,985.5 1253.4,984.7 1249.0,985.8 1244.6,986.5 1240.2,985.5 1235.8,985.1 1231.4,982.9 1227.0,979.7 1222.6,979.2 1218.2,976.9 1213.8,976.1 1209.4,978.6 1205.0,973.6 1200.6,974.0 1196.2,971.1 1191.8,968.0 1187.4,965.7 1183.0,962.0 1178.6,957.7 1174.2,955.5 1169.8,953.2 1165.4,950.7 1161.0,945.8 1156.6,945.5 1152.2,942.5 1147.8,942.8 1143.4,940.2 1139.0,938.4 1134.6,934.8 1130.2,934.9 1125.8,932.5 1121.4,930.9 1117.0,927.1 1112.6,925.9 1108.2,921.3 1103.8,920.4 1099.4,916.7 1095.0,914.8 1090.6,911.9 1086.2,905.8 1081.8,906.7 1077.4,903.3 1073.0,898.6 1068.6,892.0 1064.2,885.3 1059.8,875.9 1055.4,870.3 1051.0,860.3 1046.6,853.2 1042.2,846.8 1037.8,839.1 1033.4,833.9 1029.0,829.2 1024.6,824.4 1020.2,818.5 1015.8,814.7 1011.4,809.9 1007.0,805.9 1002.6,802.7 998.2,798.4 993.8,791.7 989.4,791.0 985.0,783.3 980.6,779.0 976.2,776.6 971.8,770.1 967.4,760.7 963.0,753.1 958.6,742.7 954.2,734.3 949.8,727.8 945.4,722.3 941.0,715.5 936.6,713.3 932.2,710.6 927.8,705.6 923.4,701.9 919.0,702.8 914.6,700.0 910.2,698.3 905.8,696.6 901.4,695.2 897.0,695.1 892.6,687.1 888.2,683.1 883.8,675.7 879.4,668.7 875.0,657.0 870.6,645.3 866.2,630.8 861.8,618.1 857.4,609.9 853.0,600.9 848.6,597.1 844.2,601.9 839.8,607.0 835.4,612.7 831.0,626.4 826.6,632.9 822.2,641.6 817.8,648.7 813.4,654.5 809.0,660.0 804.6,668.1 800.2,676.4 795.8,683.4 791.4,693.5 787.0,698.1 782.6,705.4 778.2,712.5 773.8,718.0 769.4,725.2 765.0,732.8 760.6,741.2 756.2,750.2 751.8,757.0 747.4,763.6 743.0,768.3 738.6,774.7 734.2,782.0 729.8,791.9 725.4,797.4 721.0,802.7 716.6,812.4 712.2,819.5 707.8,826.1 703.4,829.9 699.0,835.5 694.6,842.0 690.2,848.4 685.8,856.2 681.4,861.3 677.0,870.8 672.6,877.7 668.2,881.3 663.8,884.5 659.4,889.6 655.0,892.8 650.6,896.9 646.2,900.8 641.8,905.4 637.4,910.7 633.0,915.1 628.6,919.0 624.2,925.4 619.8,926.7 615.4,929.0 611.0,934.2 606.6,936.6 602.2,939.4 597.8,941.7 593.4,945.8 589.0,948.2 584.6,948.0 580.2,951.0 575.8,954.9 571.4,953.7 567.0,958.0 562.6,957.2 558.2,957.6 553.8,961.3 549.4,962.8 545.0,964.7 540.6,966.7 536.2,966.7 531.8,967.9 527.4,969.0 523.0,969.6 518.6,974.6 514.2,972.2 509.8,976.6 505.4,975.1 501.0,975.1 496.6,978.4 492.2,977.8 487.8,975.8 483.4,979.7 479.0,980.6 474.6,979.5 470.2,979.5 465.8,981.8 461.4,979.7 457.0,982.4Z" fill="#ff0000"/>
<path d="M457.0,976.2 459.2,975.2 461.4,975.0 463.6,973.0 465.8,976.7 468.0,975.8 470.2,974.1 472.4,974.9 474.6,974.1 476.8,973.0 479.0,974.3 481.2,972.7 483.4,972.4 485.6,971.7 487.8,972.6 490.0,971.8 492.2,972.1 494.4,970.7 496.6,971.1 498.8,969.8 501.0,971.3 503.2,970.3 505.4,970.1 507.6,969.9 509.8,968.2 512.0,969.4 514.2,970.0 516.4,965.7 518.6,964.9 520.8,964.5 523.0,966.2 525.2,964.8 527.4,965.1 529.6,964.1 531.8,963.0 534.0,962.4 536.2,961.3 538.4,961.6 540.6,958.8 542.8,958.7 545.0,958.6 547.2,959.4 549.4,956.0 551.6,955.0 553.8,954.7 556.0,955.4 558.2,953.5 560.4,954.2 562.6,950.3 564.8,952.6 567.0,951.9 569.2,948.8 571.4,949.5 573.6,949.6 575.8,947.5 578.0,947.4 580.2,947.6 582.4,944.7 584.6,943.1 586.8,941.7 589.0,942.1 591.2,940.1 593.4,939.0 595.6,937.8 597.8,937.4 600.0,934.4 602.2,932.8 604.4,930.9 606.6,933.1 608.8,930.7 611.0,930.7 613.2,927.3 615.4,924.7 617.6,924.1 619.8,921.7 622.0,918.6 624.2,917.1 626.4,917.9 628.6,914.1 630.8,911.7 633.0,908.6 635.2,905.7 637.4,904.8 639.6,901.4 641.8,898.7 644.0,897.4 646.2,894.7 648.4,893.8 650.6,892.8 652.8,888.9 655.0,889.1 657.2,884.9 659.4,883.6 661.6,880.4 663.8,878.9 666.0,877.0 668.2,874.1 670.4,871.5 672.6,869.1 674.8,866.5 677.0,862.8 679.2,860.5 681.4,857.5 683.6,854.4 685.8,850.5 688.0,848.5 690.2,843.1 692.4,839.2 694.6,838.5 696.8,832.5 699.0,831.5 701.2,826.5 703.4,824.7 705.6,819.1 707.8,818.6 710.0,814.3 712.2,810.1 714.4,809.5 716.6,805.2 718.8,801.2 721.0,797.1 723.2,794.6 725.4,791.2 727.6,788.8 729.8,785.5 732.0,780.1 734.2,776.0 736.4,771.8 738.6,766.7 740.8,763.5 743.0,761.0 745.2,759.2 747.4,757.2 749.6,752.4 751.8,751.2 754.0,747.3 756.2,745.9 758.4,739.7 760.6,736.1 762.8,730.6 765.0,726.6 767.2,723.5 769.4,718.8 771.6,716.0 773.8,710.7 776.0,709.7 778.2,704.8 780.4,704.1 782.6,698.8 784.8,696.9 787.0,691.1 789.2,689.6 791.4,685.0 793.6,681.5 795.8,678.0 798.0,673.5 800.2,670.0 802.4,666.4 804.6,662.3 806.8,657.8 809.0,653.5 811.2,650.9 813.4,648.5 815.6,643.5 817.8,643.3 820.0,639.2 822.2,636.2 824.4,634.2 826.6,629.3 828.8,623.6 831.0,617.0 833.2,613.1 835.4,607.9 837.6,603.2 839.8,602.6 842.0,599.5 844.2,594.4 846.4,593.9 848.6,590.0 850.8,591.4 853.0,594.8 855.2,597.3 857.4,602.2 859.6,608.1 861.8,612.7 864.0,619.5 866.2,625.2 868.4,631.3 870.6,639.2 872.8,643.1 875.0,651.6 877.2,658.0 879.4,661.3 881.6,664.8 883.8,670.1 886.0,674.9 888.2,676.3 890.4,678.2 892.6,684.0 894.8,683.6 897.0,687.6 899.2,687.7 901.4,690.4 903.6,689.8 905.8,693.2 908.0,693.0 910.2,691.7 912.4,692.2 914.6,694.6 916.8,697.0 919.0,696.6 921.2,697.3 923.4,698.1 925.6,700.3 927.8,701.2 930.0,702.3 932.2,702.3 934.4,705.7 936.6,707.2 938.8,706.9 941.0,713.0 943.2,714.2 945.4,715.7 947.6,716.9 949.8,722.1 952.0,725.0 954.2,728.0 956.4,731.2 958.6,738.5 960.8,741.1 963.0,745.6 965.2,752.7 967.4,757.1 969.6,760.3 971.8,763.3 974.0,768.0 976.2,767.4 978.4,771.9 980.6,773.2 982.8,774.9 985.0,776.8 987.2,781.0 989.4,782.6 991.6,784.8 993.8,787.6 996.0,788.0 998.2,789.7 1000.4,791.3 1002.6,794.9 1004.8,798.2 1007.0,799.6 1009.2,802.6 1011.4,803.0 1013.6,806.0 1015.8,807.9 1018.0,809.7 1020.2,815.1 1022.4,816.6 1024.6,817.5 1026.8,820.1 1029.0,823.3 1031.2,824.4 1033.4,828.8 1035.6,829.6 1037.8,833.1 1040.0,835.1 1042.2,839.2 1044.4,842.1 1046.6,845.5 1048.8,849.8 1051.0,853.8 1053.2,857.9 1055.4,862.0 1057.6,867.2 1059.8,870.7 1062.0,873.9 1064.2,879.2 1066.4,882.0 1068.6,888.4 1070.8,891.7 1073.0,892.4 1075.2,896.0 1077.4,897.4 1079.6,895.8 1081.8,898.7 1084.0,900.3 1086.2,900.3 1088.4,902.6 1090.6,904.1 1092.8,906.9 1095.0,908.1 1097.2,911.4 1099.4,910.2 1101.6,913.2 1103.8,913.6 1106.0,915.3 1108.2,915.3 1110.4,916.0 1112.6,918.6 1114.8,921.6 1117.0,923.9 1119.2,924.4 1121.4,925.6 1123.6,925.2 1125.8,928.5 1128.0,929.1 1130.2,928.1 1132.4,929.5 1134.6,929.4 1136.8,932.7 1139.0,932.4 1141.2,932.8 1143.4,934.1 1145.6,935.0 1147.8,935.0 1150.0,935.1 1152.2,935.9 1154.4,936.3 1156.6,939.3 1158.8,941.9 1161.0,938.9 1163.2,942.2 1165.4,944.5 1167.6,945.1 1169.8,948.2 1172.0,948.7 1174.2,952.0 1176.4,951.0 1178.6,952.5 1180.8,953.9 1183.0,953.7 1185.2,954.2 1187.4,957.4 1189.6,960.7 1191.8,961.8 1194.0,963.8 1196.2,963.8 1198.4,966.4 1200.6,968.3 1202.8,968.8 1205.0,971.3 1207.2,969.6 1209.4,969.2 1211.6,969.1 1213.8,972.4 1216.0,971.7 1218.2,973.3 1220.4,973.3 1222.6,975.0 1224.8,975.3 1227.0,974.4 1229.2,976.0 1231.4,977.6 1233.6,976.2 1235.8,979.8 1238.0,980.4 1240.2,980.9 1242.4,979.9 1244.6,980.6 1246.8,979.3 1249.0,980.5 1251.2,980.0 1253.4,980.8 1255.6,980.3 1257.8,981.2 1260.0,982.3 1262.2,979.9 1264.4,982.2 1266.6,979.4 1268.8,979.4 1271.0,981.6 1273.2,981.8 1275.4,982.4 1277.6,980.4 1279.8,982.2 1282.0,982.6 1284.2,984.0 1286.4,982.9 1288.6,983.7 1290.8,982.5 1293.0,983.5 1295.2,983.4 1297.4,984.8 1299.6,983.4 1301.8,983.9 1304.0,986.4 1306.2,988.9 1308.4,988.8 1310.6,990.0 1312.8,990.6 1315.0,993.4 1317.2,994.1 1319.4,996.6 1321.6,996.5 1323.8,996.6 1326.0,998.3 1328.2,999.2 1330.4,1000.3 1332.6,1004.2 1334.8,1005.1 1337.0,1004.4 1339.2,1009.1 1341.4,1009.3 1343.6,1009.9 1345.8,1012.8 1348.0,1013.5 1350.2,1013.9 1352.4,1013.9 1354.6,1017.0 1356.8,1018.4 1359.0,1017.1 1361.2,1021.0 1363.4,1022.2 1365.6,1022.2 1367.8,1024.0 1370.0,1024.7 1372.2,1025.3 1374.4,1026.9 1376.6,1029.7 1378.8,1028.0 1381.0,1030.8 1383.2,1031.9 1385.4,1032.1 1387.6,1033.5 1389.8,1033.7 1392.0,1035.3 1394.2,1037.3 1396.4,1038.3 1398.6,1037.5 1400.8,1041.1 1403.0,1038.7 1405.2,1039.9 1407.4,1039.9 1409.6,1040.2 1411.8,1042.3 1414.0,1041.0 1416.2,1043.3 1418.4,1043.5 1420.6,1041.7 1422.8,1044.3 1425.0,1043.0 1427.2,1046.3 1429.4,1044.2 1431.6,1044.0 1433.8,1043.4 1436.0,1044.2 1438.2,1045.2 1440.4,1045.0 1442.6,1045.0 1444.8,1045.7 1447.0,1046.5 1449.2,1048.3 1451.4,1045.4 1453.6,1046.8 1455.8,1046.6 1458.0,1046.3 1460.2,1046.7 1462.4,1047.3 1464.6,1049.2 1466.8,1048.5 1469.0,1048.4 1471.2,1049.8 1473.4,1049.7 1475.6,1049.5 1477.8,1050.4 1480.0,1049.5 1482.2,1051.2 1484.4,1051.4 1486.6,1050.8 1488.8,1050.3 1491.0,1053.3 1493.2,1052.1 1495.4,1054.5 1497.6,1052.0 1499.8,1053.8 1502.0,1052.8 1504.2,1053.8 1506.4,1054.6 1508.6,1053.4 1510.8,1054.6 1513.0,1055.4 1515.2,1055.8 1517.4,1056.9 1519.6,1057.8 1521.8,1058.1 1524.0,1058.1 1526.2,1058.0 1528.4,1057.8 1530.6,1058.7 1532.8,1059.4 1535.0,1060.9 1537.2,1060.1 1539.4,1059.5 1541.6,1061.7 1543.8,1060.5 1546.0,1060.8 1548.2,1061.6 1550.4,1062.6 1552.6,1060.2 1554.8,1061.5 1557.0,1063.1 1559.2,1062.9 1561.4,1062.8 1563.6,1063.5 1565.8,1065.9 1568.0,1064.5 1570.2,1066.1 1572.4,1066.6 1574.6,1065.8 1576.8,1067.1 1579.0,1066.6 1581.2,1066.9 1583.4,1066.8 1585.6,1069.2 1587.8,1068.4 1590.0,1068.7 1592.2,1068.5 1594.4,1071.8 1596.6,1070.9 1598.8,1070.1 1601.0,1069.7 1603.2,1068.9 1605.4,1070.9 1607.6,1071.0 1609.8,1069.4 1612.0,1072.1 1614.2,1071.8 1616.4,1070.1 1618.6,1070.7 1620.8,1070.9 1623.0,1071.6 1625.2,1071.4 1627.4,1070.0 1629.6,1073.2 1631.8,1072.2 1634.0,1073.2 1636.2,1073.3 1638.4,1072.0 1640.6,1072.7 1642.8,1073.2 1645.0,1073.3 1647.2,1072.5 1649.4,1072.0 1651.6,1072.6 1653.8,1071.7 1656.0,1071.9 1658.2,1070.4 1660.4,1072.4 1662.6,1071.2 1664.8,1071.6 1667.0,1072.1 1669.2,1072.3 1671.4,1073.9 1673.6,1072.1 1675.8,1070.4 1678.0,1071.9 1680.2,1071.1 1682.4,1072.0 1684.6,1070.9 1686.8,1070.8 1689.0,1070.9 1691.2,1070.6 1693.4,1069.3 1695.6,1070.3 1697.8,1070.8 1700.0,1071.9 1702.2,1070.2 1704.4,1070.0 1706.6,1070.8 1708.8,1070.6 1711.0,1071.6 1713.2,1070.4 1715.4,1069.6 1717.6,1070.9 1719.8,1070.9 1722.0,1068.8 1724.2,1069.2 1726.4,1067.3 1728.6,1068.4 1730.8,1067.8 1733.0,1068.6 1735.2,1068.3 1737.4,1068.7 1739.6,1068.8 1741.8,1069.5 1744.0,1069.2 1746.2,1068.5 1748.4,1067.8 1750.6,1070.4 1752.8,1070.6 1755.0,1068.8 1757.2,1069.9 1759.4,1067.8 1761.6,1067.8 1763.8,1069.2 1766.0,1071.0 1768.2,1068.5 1770.4,1068.8 1772.6,1071.3 1774.8,1067.8 1777.0,1070.4 1779.2,1070.3 1781.4,1069.6 1783.6,1070.1 1785.8,1072.2 1788.0,1068.9" fill="none" stroke="#ff0000" stroke-width="7.2" stroke-linejoin="round"/>
<path d="M457.0,981.8 461.4,978.6 465.8,980.6 470.2,978.0 474.6,980.4 479.0,976.9 483.4,977.6 487.8,977.0 492.2,974.6 496.6,977.3 501.0,973.7 505.4,973.2 509.8,973.3 514.2,974.0 518.6,971.2 523.0,973.6 527.4,970.2 531.8,969.0 536.2,968.9 540.6,966.7 545.0,964.0 549.4,963.0 553.8,962.3 558.2,962.4 562.6,959.2 567.0,957.9 571.4,953.3 575.8,953.8 580.2,952.5 584.6,953.1 589.0,951.3 593.4,947.3 597.8,945.3 602.2,942.2 606.6,939.0 611.0,937.2 615.4,933.0 619.8,930.1 624.2,926.8 628.6,922.1 633.0,920.1 637.4,913.8 641.8,910.7 646.2,905.4 650.6,897.3 655.0,895.5 659.4,891.7 663.8,889.0 668.2,882.6 672.6,878.6 677.0,874.0 681.4,866.5 685.8,864.1 690.2,857.3 694.6,854.6 699.0,850.5 703.4,845.3 707.8,837.9 712.2,835.4 716.6,826.7 721.0,820.2 725.4,811.6 729.8,805.5 734.2,801.9 738.6,792.7 743.0,785.9 747.4,779.4 751.8,774.5 756.2,764.9 760.6,760.0 765.0,752.4 769.4,748.5 773.8,739.7 778.2,730.2 782.6,722.0 787.0,712.9 791.4,702.5 795.8,692.6 800.2,684.4 804.6,668.2 809.0,649.5 813.4,622.2 817.8,585.6 822.2,549.6 826.6,468.7 831.0,425.8 835.4,383.0 839.8,311.4 844.2,286.4 848.6,286.5 853.0,301.1 857.4,357.5 861.8,413.4 866.2,476.0 870.6,547.0 875.0,597.0 879.4,632.2 883.8,650.0 888.2,658.5 892.6,659.3 897.0,663.0 901.4,664.1 905.8,657.3 910.2,653.6 914.6,645.2 919.0,629.5 923.4,613.3 927.8,606.7 932.2,604.1 936.6,608.1 941.0,620.8 945.4,635.7 949.8,652.5 954.2,667.5 958.6,685.4 963.0,701.5 967.4,714.2 971.8,729.1 976.2,736.6 980.6,741.1 985.0,736.5 989.4,730.4 993.8,715.1 998.2,699.3 1002.6,683.4 1007.0,672.2 1011.4,663.2 1015.8,657.9 1020.2,658.0 1024.6,669.0 1029.0,676.9 1033.4,700.0 1037.8,727.2 1042.2,755.4 1046.6,774.9 1051.0,792.3 1055.4,811.2 1059.8,826.7 1064.2,842.0 1068.6,855.3 1073.0,866.4 1077.4,880.4 1081.8,887.8 1086.2,892.2 1090.6,896.9 1095.0,900.2 1099.4,905.4 1103.8,908.5 1108.2,914.6 1112.6,915.0 1117.0,920.0 1121.4,920.5 1125.8,925.1 1130.2,928.5 1134.6,929.4 1139.0,932.7 1143.4,932.1 1147.8,933.3 1152.2,935.9 1156.6,938.8 1161.0,939.6 1165.4,941.9 1169.8,945.7 1174.2,950.3 1178.6,949.3 1183.0,951.4 1187.4,955.8 1191.8,962.5 1196.2,964.6 1200.6,965.2 1205.0,966.7 1209.4,967.6 1213.8,967.2 1218.2,967.6 1222.6,968.9 1227.0,969.7 1231.4,968.8 1235.8,969.1 1240.2,968.3 1244.6,966.0 1249.0,964.2 1253.4,960.4 1257.8,951.9 1262.2,948.9 1266.6,941.8 1271.0,933.8 1275.4,928.7 1279.8,922.2 1284.2,916.9 1288.6,910.0 1293.0,915.1 1297.4,919.2 1301.8,923.5 1306.2,934.4 1310.6,940.5 1315.0,952.9 1319.4,960.2 1323.8,967.9 1328.2,975.0 1332.6,981.5 1337.0,985.4 1341.4,989.8 1345.8,991.6 1350.2,992.1 1354.6,996.7 1359.0,997.0 1363.4,1001.6 1367.8,1002.6 1372.2,1005.1 1376.6,1009.0 1381.0,1007.4 1385.4,1014.1 1389.8,1015.9 1394.2,1016.6 1398.6,1017.7 1403.0,1017.9 1407.4,1021.8 1411.8,1020.8 1416.2,1021.1 1420.6,1020.9 1425.0,1024.1 1429.4,1023.8 1433.8,1021.5 1438.2,1023.6 1442.6,1022.5 1447.0,1025.6 1451.4,1023.5 1455.8,1024.7 1460.2,1025.6 1464.6,1024.8 1469.0,1023.7 1473.4,1024.8 1477.8,1023.8 1482.2,1027.4 1486.6,1027.9 1491.0,1025.9 1495.4,1028.0 1499.8,1033.2 1504.2,1032.9 1508.6,1033.1 1513.0,1036.4 1517.4,1037.5 1521.8,1039.8 1526.2,1040.1 1530.6,1044.3 1535.0,1044.2 1539.4,1043.8 1543.8,1046.5 1548.2,1047.5 1552.6,1049.8 1557.0,1051.0 1561.4,1051.3 1565.8,1050.4 1570.2,1051.9 1574.6,1051.2 1579.0,1054.2 1583.4,1051.4 1587.8,1053.1 1592.2,1053.6 1596.6,1053.7 1601.0,1056.2 1605.4,1056.8 1609.8,1057.4 1614.2,1059.7 1618.6,1057.9 1623.0,1059.6 1627.4,1058.8 1631.8,1058.7 1636.2,1056.6 1640.6,1056.4 1645.0,1058.5 1649.4,1055.8 1653.8,1058.3 1658.2,1058.5 1662.6,1055.6 1667.0,1056.0 1671.4,1055.1 1675.8,1056.0 1680.2,1055.8 1684.6,1053.6 1689.0,1053.0 1693.4,1052.7 1697.8,1049.3 1702.2,1049.7 1706.6,1050.7 1711.0,1049.0 1715.4,1051.6 1719.8,1048.5 1724.2,1049.4 1728.6,1049.7 1733.0,1050.4 1737.4,1048.5 1741.8,1049.1 1746.2,1050.1 1750.6,1049.9 1755.0,1050.6 1759.4,1049.1 1763.8,1048.8 1768.2,1048.0 1772.6,1048.8 1777.0,1049.9 1781.4,1048.8 1788.0,1050.3 1788.0,1062.6 1781.4,1063.8 1777.0,1063.8 1772.6,1064.6 1768.2,1066.6 1763.8,1064.5 1759.4,1064.6 1755.0,1063.9 1750.6,1062.9 1746.2,1061.7 1741.8,1061.2 1737.4,1065.1 1733.0,1063.9 1728.6,1062.7 1724.2,1063.8 1719.8,1064.1 1715.4,1061.7 1711.0,1063.0 1706.6,1061.4 1702.2,1065.9 1697.8,1066.0 1693.4,1064.5 1689.0,1065.0 1684.6,1069.0 1680.2,1068.5 1675.8,1067.6 1671.4,1069.7 1667.0,1069.1 1662.6,1069.9 1658.2,1069.0 1653.8,1070.6 1649.4,1072.5 1645.0,1073.6 1640.6,1070.6 1636.2,1073.3 1631.8,1073.4 1627.4,1071.2 1623.0,1072.0 1618.6,1071.7 1614.2,1071.1 1609.8,1073.3 1605.4,1069.6 1601.0,1068.7 1596.6,1069.6 1592.2,1070.2 1587.8,1067.6 1583.4,1068.2 1579.0,1066.0 1574.6,1064.8 1570.2,1064.0 1565.8,1065.4 1561.4,1066.3 1557.0,1063.4 1552.6,1063.6 1548.2,1061.6 1543.8,1061.6 1539.4,1059.4 1535.0,1057.8 1530.6,1055.5 1526.2,1054.0 1521.8,1052.2 1517.4,1052.1 1513.0,1049.6 1508.6,1046.0 1504.2,1045.8 1499.8,1045.0 1495.4,1044.9 1491.0,1042.5 1486.6,1042.6 1482.2,1038.3 1477.8,1040.4 1473.4,1041.6 1469.0,1040.3 1464.6,1039.6 1460.2,1038.8 1455.8,1040.1 1451.4,1038.0 1447.0,1038.7 1442.6,1037.4 1438.2,1038.0 1433.8,1038.1 1429.4,1035.7 1425.0,1037.7 1420.6,1037.1 1416.2,1036.6 1411.8,1034.6 1407.4,1035.3 1403.0,1033.7 1398.6,1029.1 1394.2,1028.6 1389.8,1027.7 1385.4,1026.8 1381.0,1022.2 1376.6,1022.7 1372.2,1019.5 1367.8,1019.0 1363.4,1013.8 1359.0,1013.9 1354.6,1009.4 1350.2,1008.8 1345.8,1006.2 1341.4,1001.7 1337.0,999.1 1332.6,994.7 1328.2,991.8 1323.8,982.3 1319.4,974.1 1315.0,964.5 1310.6,955.1 1306.2,946.7 1301.8,938.7 1297.4,932.1 1293.0,929.2 1288.6,925.8 1284.2,930.7 1279.8,934.6 1275.4,941.9 1271.0,949.4 1266.6,957.3 1262.2,963.9 1257.8,969.6 1253.4,976.1 1249.0,979.0 1244.6,979.7 1240.2,983.9 1235.8,983.4 1231.4,983.8 1227.0,986.6 1222.6,984.5 1218.2,984.5 1213.8,983.0 1209.4,983.8 1205.0,984.4 1200.6,982.5 1196.2,980.2 1191.8,976.1 1187.4,972.0 1183.0,967.5 1178.6,967.2 1174.2,965.1 1169.8,960.9 1165.4,958.6 1161.0,955.8 1156.6,954.2 1152.2,948.5 1147.8,950.3 1143.4,948.5 1139.0,945.3 1134.6,947.5 1130.2,944.5 1125.8,940.8 1121.4,938.8 1117.0,932.4 1112.6,931.2 1108.2,929.0 1103.8,925.6 1099.4,921.7 1095.0,915.9 1090.6,912.8 1086.2,906.1 1081.8,902.9 1077.4,894.0 1073.0,884.4 1068.6,872.2 1064.2,855.7 1059.8,839.5 1055.4,823.6 1051.0,804.1 1046.6,788.0 1042.2,770.1 1037.8,741.7 1033.4,713.9 1029.0,690.9 1024.6,680.0 1020.2,672.2 1015.8,671.2 1011.4,678.4 1007.0,687.0 1002.6,696.5 998.2,712.6 993.8,728.2 989.4,743.8 985.0,750.0 980.6,755.5 976.2,749.7 971.8,741.0 967.4,728.1 963.0,713.7 958.6,697.4 954.2,678.9 949.8,662.6 945.4,648.8 941.0,636.0 936.6,623.8 932.2,616.8 927.8,622.7 923.4,626.6 919.0,646.0 914.6,659.6 910.2,666.7 905.8,672.0 901.4,677.9 897.0,679.0 892.6,677.4 888.2,670.9 883.8,665.5 879.4,645.4 875.0,611.1 870.6,561.8 866.2,490.4 861.8,424.6 857.4,369.4 853.0,315.6 848.6,298.7 844.2,303.0 839.8,327.7 835.4,397.8 831.0,438.9 826.6,483.3 822.2,562.0 817.8,597.6 813.4,637.1 809.0,662.8 804.6,682.1 800.2,697.3 795.8,707.4 791.4,718.3 787.0,727.7 782.6,734.6 778.2,745.0 773.8,751.0 769.4,760.8 765.0,767.3 760.6,774.2 756.2,781.8 751.8,787.2 747.4,793.7 743.0,801.1 738.6,809.4 734.2,811.3 729.8,820.5 725.4,827.6 721.0,833.2 716.6,837.9 712.2,847.7 707.8,853.4 703.4,858.8 699.0,865.4 694.6,867.9 690.2,872.5 685.8,876.2 681.4,883.4 677.0,888.3 672.6,891.4 668.2,894.8 663.8,900.6 659.4,905.3 655.0,906.5 650.6,914.5 646.2,919.8 641.8,925.0 637.4,929.0 633.0,932.2 628.6,935.6 624.2,941.5 619.8,943.7 615.4,949.8 611.0,951.6 606.6,955.9 602.2,957.5 597.8,958.3 593.4,963.3 589.0,964.7 584.6,966.7 580.2,964.7 575.8,967.7 571.4,971.2 567.0,970.1 562.6,974.7 558.2,973.8 553.8,976.4 549.4,976.2 545.0,979.9 540.6,979.5 536.2,982.5 531.8,982.1 527.4,984.1 523.0,984.9 518.6,985.6 514.2,987.2 509.8,987.2 505.4,987.9 501.0,989.7 496.6,988.0 492.2,992.8 487.8,989.9 483.4,993.4 479.0,993.5 474.6,993.0 470.2,994.2 465.8,994.8 461.4,993.4 457.0,995.3Z" fill="#00ff00"/>
<path d="M457.0,989.5 459.2,985.1 461.4,987.6 463.6,986.4 465.8,986.4 468.0,986.4 470.2,984.5 472.4,986.1 474.6,985.3 476.8,988.2 479.0,986.0 481.2,985.3 483.4,985.2 485.6,984.5 487.8,983.7 490.0,984.0 492.2,984.5 494.4,983.4 496.6,984.2 498.8,982.7 501.0,982.5 503.2,983.7 505.4,982.3 507.6,980.9 509.8,980.8 512.0,981.1 514.2,982.0 516.4,979.4 518.6,978.9 520.8,979.7 523.0,977.3 525.2,977.4 527.4,978.1 529.6,977.4 531.8,976.4 534.0,976.5 536.2,973.2 538.4,975.7 540.6,972.9 542.8,971.4 545.0,972.6 547.2,972.2 549.4,970.2 551.6,968.8 553.8,969.1 556.0,968.2 558.2,968.9 560.4,967.4 562.6,966.1 564.8,966.2 567.0,964.1 569.2,962.6 571.4,963.3 573.6,962.5 575.8,960.9 578.0,959.5 580.2,959.8 582.4,956.5 584.6,958.6 586.8,957.6 589.0,954.7 591.2,955.4 593.4,953.2 595.6,953.7 597.8,949.7 600.0,949.6 602.2,950.0 604.4,949.2 606.6,944.7 608.8,945.2 611.0,944.5 613.2,941.7 615.4,942.0 617.6,937.4 619.8,937.1 622.0,933.8 624.2,934.4 626.4,931.2 628.6,929.0 630.8,925.8 633.0,927.4 635.2,924.7 637.4,922.9 639.6,921.4 641.8,918.1 644.0,914.3 646.2,911.3 648.4,908.5 650.6,907.9 652.8,902.4 655.0,901.1 657.2,899.5 659.4,898.1 661.6,896.5 663.8,892.7 666.0,890.2 668.2,889.6 670.4,888.5 672.6,885.7 674.8,882.8 677.0,879.9 679.2,878.1 681.4,875.2 683.6,873.9 685.8,869.9 688.0,868.5 690.2,865.9 692.4,864.2 694.6,861.5 696.8,861.2 699.0,858.1 701.2,855.8 703.4,849.9 705.6,849.3 707.8,846.7 710.0,844.8 712.2,838.5 714.4,838.2 716.6,834.4 718.8,828.4 721.0,825.0 723.2,821.9 725.4,819.5 727.6,816.8 729.8,815.0 732.0,809.5 734.2,807.3 736.4,803.4 738.6,801.7 740.8,797.4 743.0,794.8 745.2,789.0 747.4,786.6 749.6,782.7 751.8,781.8 754.0,777.7 756.2,773.5 758.4,770.1 760.6,767.8 762.8,763.4 765.0,759.5 767.2,757.2 769.4,755.3 771.6,749.1 773.8,744.8 776.0,740.0 778.2,735.7 780.4,733.4 782.6,729.6 784.8,724.6 787.0,720.5 789.2,715.2 791.4,710.2 793.6,703.4 795.8,699.3 798.0,694.7 800.2,688.5 802.4,682.9 804.6,674.8 806.8,666.3 809.0,657.6 811.2,645.7 813.4,628.7 815.6,610.3 817.8,591.5 820.0,575.8 822.2,554.0 824.4,520.4 826.6,476.4 828.8,452.7 831.0,433.6 833.2,414.0 835.4,391.0 837.6,355.8 839.8,321.6 842.0,298.2 844.2,294.1 846.4,293.7 848.6,292.5 850.8,299.1 853.0,309.6 855.2,337.2 857.4,362.5 859.6,389.8 861.8,420.2 864.0,451.3 866.2,482.9 868.4,520.9 870.6,554.0 872.8,581.9 875.0,604.5 877.2,626.4 879.4,639.3 881.6,647.2 883.8,655.4 886.0,661.9 888.2,665.7 890.4,668.1 892.6,668.7 894.8,670.7 897.0,673.2 899.2,672.6 901.4,670.6 903.6,667.8 905.8,664.1 908.0,664.1 910.2,659.2 912.4,658.1 914.6,650.8 916.8,645.0 919.0,636.7 921.2,627.8 923.4,620.9 925.6,615.9 927.8,614.0 930.0,612.0 932.2,609.7 934.4,609.7 936.6,615.1 938.8,622.4 941.0,627.1 943.2,635.8 945.4,641.4 947.6,650.6 949.8,658.8 952.0,663.8 954.2,674.1 956.4,682.1 958.6,689.5 960.8,699.3 963.0,706.6 965.2,713.3 967.4,722.3 969.6,729.8 971.8,736.1 974.0,738.7 976.2,744.3 978.4,748.2 980.6,746.9 982.8,744.4 985.0,741.9 987.2,738.4 989.4,737.4 991.6,729.6 993.8,720.2 996.0,712.1 998.2,704.7 1000.4,699.9 1002.6,690.9 1004.8,684.6 1007.0,678.7 1009.2,674.4 1011.4,673.6 1013.6,667.8 1015.8,666.0 1018.0,663.5 1020.2,667.1 1022.4,669.3 1024.6,676.2 1026.8,678.3 1029.0,684.4 1031.2,694.0 1033.4,705.2 1035.6,719.6 1037.8,736.7 1040.0,751.0 1042.2,763.2 1044.4,773.1 1046.6,780.9 1048.8,790.3 1051.0,799.8 1053.2,809.1 1055.4,818.7 1057.6,827.1 1059.8,833.8 1062.0,841.0 1064.2,849.9 1066.4,858.6 1068.6,862.7 1070.8,868.7 1073.0,874.5 1075.2,881.8 1077.4,884.6 1079.6,892.4 1081.8,896.4 1084.0,896.5 1086.2,901.0 1088.4,902.3 1090.6,903.5 1092.8,906.8 1095.0,907.8 1097.2,911.4 1099.4,916.5 1101.6,915.7 1103.8,919.6 1106.0,918.9 1108.2,921.2 1110.4,921.5 1112.6,920.9 1114.8,924.4 1117.0,927.1 1119.2,927.6 1121.4,929.2 1123.6,932.4 1125.8,932.8 1128.0,933.2 1130.2,935.6 1132.4,938.2 1134.6,937.5 1136.8,939.5 1139.0,940.8 1141.2,939.9 1143.4,939.2 1145.6,939.5 1147.8,941.3 1150.0,942.6 1152.2,942.6 1154.4,944.1 1156.6,944.3 1158.8,946.2 1161.0,946.6 1163.2,948.3 1165.4,949.1 1167.6,950.6 1169.8,953.4 1172.0,954.5 1174.2,955.7 1176.4,958.2 1178.6,958.3 1180.8,961.5 1183.0,961.4 1185.2,962.0 1187.4,965.6 1189.6,967.4 1191.8,968.5 1194.0,971.9 1196.2,971.2 1198.4,970.9 1200.6,975.0 1202.8,974.6 1205.0,977.0 1207.2,974.9 1209.4,974.3 1211.6,977.0 1213.8,974.6 1216.0,976.3 1218.2,978.1 1220.4,977.3 1222.6,977.6 1224.8,978.0 1227.0,978.5 1229.2,976.7 1231.4,977.9 1233.6,977.6 1235.8,979.0 1238.0,976.2 1240.2,975.4 1242.4,976.6 1244.6,974.0 1246.8,973.0 1249.0,971.2 1251.2,970.5 1253.4,966.5 1255.6,964.3 1257.8,959.3 1260.0,957.8 1262.2,957.4 1264.4,952.3 1266.6,948.8 1268.8,944.6 1271.0,942.8 1273.2,938.7 1275.4,933.7 1277.6,932.4 1279.8,929.2 1282.0,926.8 1284.2,922.6 1286.4,922.2 1288.6,918.1 1290.8,917.2 1293.0,919.4 1295.2,922.5 1297.4,926.4 1299.6,928.1 1301.8,932.3 1304.0,935.1 1306.2,940.4 1308.4,944.6 1310.6,948.5 1312.8,951.4 1315.0,958.3 1317.2,963.6 1319.4,967.7 1321.6,972.5 1323.8,975.1 1326.0,978.8 1328.2,981.9 1330.4,987.8 1332.6,989.8 1334.8,991.2 1337.0,992.2 1339.2,995.0 1341.4,997.8 1343.6,998.0 1345.8,998.0 1348.0,1001.4 1350.2,1002.6 1352.4,1003.3 1354.6,1004.3 1356.8,1005.8 1359.0,1006.3 1361.2,1007.7 1363.4,1007.2 1365.6,1010.6 1367.8,1010.4 1370.0,1013.3 1372.2,1010.4 1374.4,1014.2 1376.6,1015.6 1378.8,1015.4 1381.0,1017.3 1383.2,1018.6 1385.4,1019.3 1387.6,1019.1 1389.8,1020.3 1392.0,1022.4 1394.2,1023.5 1396.4,1023.2 1398.6,1024.1 1400.8,1025.1 1403.0,1026.8 1405.2,1025.6 1407.4,1026.1 1409.6,1027.9 1411.8,1026.9 1414.0,1027.7 1416.2,1028.6 1418.4,1029.2 1420.6,1027.8 1422.8,1029.9 1425.0,1027.6 1427.2,1030.1 1429.4,1028.2 1431.6,1028.8 1433.8,1030.9 1436.0,1030.1 1438.2,1029.9 1440.4,1030.5 1442.6,1031.6 1444.8,1031.3 1447.0,1031.4 1449.2,1032.6 1451.4,1030.9 1453.6,1031.2 1455.8,1031.2 1458.0,1033.0 1460.2,1032.9 1462.4,1033.2 1464.6,1032.0 1466.8,1031.9 1469.0,1033.0 1471.2,1031.8 1473.4,1033.1 1475.6,1033.1 1477.8,1031.7 1480.0,1032.4 1482.2,1032.5 1484.4,1034.8 1486.6,1036.0 1488.8,1034.3 1491.0,1035.1 1493.2,1033.6 1495.4,1036.6 1497.6,1037.1 1499.8,1036.7 1502.0,1039.2 1504.2,1037.5 1506.4,1039.6 1508.6,1040.7 1510.8,1040.2 1513.0,1043.1 1515.2,1044.2 1517.4,1042.7 1519.6,1043.5 1521.8,1046.4 1524.0,1046.6 1526.2,1046.3 1528.4,1048.1 1530.6,1049.2 1532.8,1050.0 1535.0,1051.7 1537.2,1051.9 1539.4,1054.0 1541.6,1054.3 1543.8,1054.3 1546.0,1055.3 1548.2,1056.2 1550.4,1056.3 1552.6,1055.0 1554.8,1057.8 1557.0,1057.7 1559.2,1059.6 1561.4,1058.2 1563.6,1058.8 1565.8,1058.7 1568.0,1060.2 1570.2,1058.8 1572.4,1058.5 1574.6,1059.2 1576.8,1058.6 1579.0,1059.4 1581.2,1059.4 1583.4,1060.0 1585.6,1062.0 1587.8,1060.1 1590.0,1060.9 1592.2,1061.0 1594.4,1062.3 1596.6,1060.8 1598.8,1061.6 1601.0,1062.7 1603.2,1063.6 1605.4,1063.4 1607.6,1063.3 1609.8,1063.3 1612.0,1065.0 1614.2,1066.3 1616.4,1065.6 1618.6,1065.8 1620.8,1066.4 1623.0,1065.0 1625.2,1065.5 1627.4,1065.4 1629.6,1065.8 1631.8,1065.4 1634.0,1064.0 1636.2,1066.2 1638.4,1066.7 1640.6,1064.6 1642.8,1065.1 1645.0,1064.8 1647.2,1065.2 1649.4,1062.8 1651.6,1065.7 1653.8,1063.5 1656.0,1065.1 1658.2,1063.7 1660.4,1063.1 1662.6,1063.1 1664.8,1063.8 1667.0,1061.7 1669.2,1061.8 1671.4,1061.4 1673.6,1059.8 1675.8,1062.4 1678.0,1061.3 1680.2,1060.3 1682.4,1061.2 1684.6,1058.7 1686.8,1059.2 1689.0,1060.6 1691.2,1059.5 1693.4,1056.0 1695.6,1055.6 1697.8,1056.4 1700.0,1058.1 1702.2,1056.2 1704.4,1056.4 1706.6,1057.2 1708.8,1055.7 1711.0,1056.8 1713.2,1057.4 1715.4,1057.1 1717.6,1057.0 1719.8,1056.0 1722.0,1057.1 1724.2,1056.2 1726.4,1057.9 1728.6,1058.8 1730.8,1055.9 1733.0,1054.4 1735.2,1056.2 1737.4,1057.0 1739.6,1057.7 1741.8,1057.7 1744.0,1055.8 1746.2,1055.9 1748.4,1058.0 1750.6,1055.7 1752.8,1058.0 1755.0,1056.7 1757.2,1057.8 1759.4,1057.8 1761.6,1057.9 1763.8,1058.1 1766.0,1056.3 1768.2,1057.7 1770.4,1057.5 1772.6,1057.8 1774.8,1058.8 1777.0,1057.4 1779.2,1057.0 1781.4,1057.1 1783.6,1057.5 1785.8,1058.7 1788.0,1057.2" fill="none" stroke="#00ff00" stroke-width="8.0" stroke-linejoin="round"/>
<text x="1090" y="128.5" class="lg">As-sprayed coating</text>
<text x="1090" y="198.5" class="lg">Nd:YAG laser remelted coating</text>
<text x="1090" y="265.5" class="lg">CO2 laser remelted coating</text>
<path d="M630.0,928.2 632.0,926.6 634.0,924.9 636.0,923.3 638.0,921.6 640.0,919.9 642.0,917.5 644.0,914.9 646.0,912.4 648.0,909.8 650.0,907.3 652.0,904.8 654.0,902.6 656.0,900.8 658.0,899.1 660.0,897.3 662.0,895.5 664.0,893.8 666.0,891.9 668.0,889.9 670.0,887.7 672.0,885.6 674.0,883.4 676.0,881.3 678.0,879.1 680.0,877.0 682.0,874.8 684.0,872.7 686.0,870.5 688.0,868.4 690.0,866.2 692.0,864.1 694.0,861.9 696.0,859.8 698.0,857.7 700.0,855.6 702.0,853.4 704.0,851.3 706.0,849.2 708.0,847.0 710.0,844.3 712.0,841.0 714.0,837.7 716.0,834.3 718.0,831.0 720.0,827.7 722.0,824.4 724.0,821.5 726.0,818.5 728.0,815.6 730.0,812.7 732.0,809.7 734.0,806.8 736.0,803.9 738.0,800.9 740.0,797.9 742.0,794.9 744.0,791.9 746.0,788.9 748.0,785.9 750.0,783.0 752.0,780.0 754.0,777.1 756.0,774.1 758.0,771.2 760.0,768.2 762.0,765.3 764.0,762.1 766.0,758.8 768.0,755.4 770.0,752.0 772.0,748.6 774.0,745.0 776.0,741.2 778.0,737.4 780.0,733.7 782.0,729.9 784.0,726.1 786.0,722.3 788.0,717.9 790.0,713.3 792.0,708.6 794.0,704.0 796.0,699.3 798.0,694.6 800.0,689.8" fill="none" stroke="#00ff00" stroke-width="11.5" stroke-linejoin="round" stroke-linecap="round"/>
<rect x="930.6" y="104.0" width="146.4" height="5.0" fill="#858585"/>
<rect x="926.4" y="104.0" width="4.2" height="5.0" fill="#cccccc"/>
<rect x="930.6" y="109.0" width="146.4" height="4.2" fill="#000"/>
<rect x="926.4" y="109.0" width="4.2" height="4.2" fill="#cccccc"/>
<rect x="930.6" y="113.2" width="146.4" height="4.0" fill="#dcdcdc"/>
<rect x="926.4" y="113.2" width="4.2" height="4.0" fill="#dcdcdc80"/>
<rect x="930.6" y="174.8" width="146.4" height="4.8" fill="#ff3030"/>
<rect x="926.4" y="174.8" width="4.2" height="4.8" fill="#ff303080"/>
<rect x="930.6" y="179.6" width="146.4" height="4.3" fill="#ff6a6a"/>
<rect x="926.4" y="179.6" width="4.2" height="4.3" fill="#ff6a6a80"/>
<rect x="930.6" y="242.0" width="146.4" height="4.2" fill="#22ff8c"/>
<rect x="926.4" y="242.0" width="4.2" height="4.2" fill="#22ff8c80"/>
<rect x="930.6" y="246.2" width="146.4" height="4.2" fill="#00ff00"/>
<rect x="926.4" y="246.2" width="4.2" height="4.2" fill="#00ff0080"/>
</svg>
</body></html>
